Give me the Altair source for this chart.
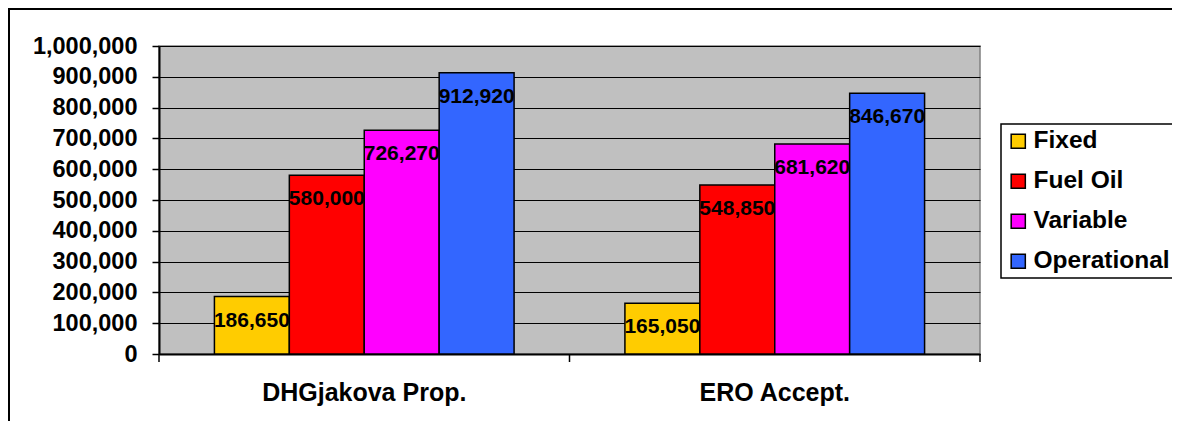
import altair as alt
import pandas as pd

FONT = "Liberation Sans, Arial, sans-serif"

groups = ["DHGjakova Prop.", "ERO Accept."]
series = ["Fixed", "Fuel Oil", "Variable", "Operational"]
colors = ["#FFCC00", "#FF0000", "#FF00FF", "#3366FF"]
dhg_values = [186650, 580000, 726270, 912920]
ero_values = [165050, 548850, 681620, 846670]
y_ticks = [0, 100000, 200000, 300000, 400000, 500000, 600000, 700000, 800000, 900000, 1000000]

rows = []
for g, vals in zip(groups, [dhg_values, ero_values]):
    for s, v in zip(series, vals):
        rows.append({"group": g, "series": s, "value": v})
df = pd.DataFrame(rows)

W, H = 821, 308
PAD_OUTER = 0.135
PAD_INNER = 0.27
step = W / (len(groups) - PAD_INNER + 2 * PAD_OUTER)
edge_px = PAD_OUTER * step

x_scale = alt.Scale(domain=groups, paddingInner=PAD_INNER, paddingOuter=PAD_OUTER)
x_axis = alt.Axis(title=None, ticks=False, tickSize=0, labelFontSize=25, labelFontWeight="bold",
                  labelFont=FONT, labelColor="black", labelPadding=26, labelLimit=400,
                  domainColor="black", domainWidth=2, labelAngle=0)
y_scale = alt.Scale(domain=[0, 1000000], nice=False)
y_axis = alt.Axis(title=None, values=y_ticks, format=",.0f", labelFontSize=23.5, labelFontWeight="bold",
                  labelFont=FONT, labelColor="black", labelPadding=15, tickSize=7, tickWidth=1.5,
                  tickColor="black", domainColor="black", domainWidth=2, gridColor="black",
                  gridWidth=1, grid=True)
off_scale = alt.Scale(domain=series, paddingInner=0, paddingOuter=0)
color_scale = alt.Scale(domain=series, range=colors)

frame = alt.Chart(alt.Data(values=[{"f": 1}])).mark_rect(
    fill="white", fillOpacity=0, stroke="black", strokeWidth=2
).encode(x=alt.value(-150), x2=alt.value(1060), y=alt.value(-37), y2=alt.value(400))

bars = alt.Chart(df).mark_bar(stroke="black", strokeWidth=1.5).encode(
    x=alt.X("group:N", scale=x_scale, axis=x_axis, sort=groups),
    xOffset=alt.XOffset("series:N", scale=off_scale, sort=series),
    y=alt.Y("value:Q", scale=y_scale, axis=y_axis),
    color=alt.Color("series:N", scale=color_scale, sort=series,
                    legend=alt.Legend(title=None, orient="none", legendX=842, legendY=78)),
)

labels = alt.Chart(df).mark_text(
    dy=30, fontSize=21, fontWeight="bold", font=FONT, color="black",
    baseline="alphabetic", align="center"
).encode(
    x=alt.X("group:N", scale=x_scale, axis=x_axis, sort=groups),
    xOffset=alt.XOffset("series:N", scale=off_scale, sort=series),
    y=alt.Y("value:Q", scale=y_scale, axis=y_axis),
    text=alt.Text("value:Q", format=",.0f"),
)

tick_df = pd.DataFrame({"group": groups})
ticks_a = alt.Chart(tick_df).mark_rule(color="black", strokeWidth=1.5, xOffset=-edge_px).encode(
    x=alt.X("group:N", scale=x_scale, axis=x_axis, sort=groups, bandPosition=0),
    y=alt.value(H), y2=alt.value(H + 8),
)
ticks_b = alt.Chart(pd.DataFrame({"group": groups[-1:]})).mark_rule(
    color="black", strokeWidth=1.5, xOffset=edge_px
).encode(
    x=alt.X("group:N", scale=x_scale, axis=x_axis, sort=groups, bandPosition=1),
    y=alt.value(H), y2=alt.value(H + 8),
)

chart = alt.layer(frame, bars, labels, ticks_a, ticks_b).properties(
    width=W, height=H,
    autosize=alt.AutoSizeParams(type="none"),
    padding={"left": 151, "top": 38, "right": 192, "bottom": 67},
    background="white",
).configure_view(
    fill="#C0C0C0", stroke="#808080", strokeWidth=1.5
).configure_legend(
    strokeColor="black", strokeWidth=1.5, fillColor="white", padding=5,
    symbolType="square", symbolSize=200, symbolStrokeColor="black", symbolStrokeWidth=1.5,
    symbolOpacity=1, labelFont=FONT, labelFontSize=24.5, labelFontWeight="bold",
    labelColor="black", labelOffset=3, rowPadding=15, labelLimit=300,
)

chart.save("out.html", embed_options={"renderer": "svg", "actions": False})
